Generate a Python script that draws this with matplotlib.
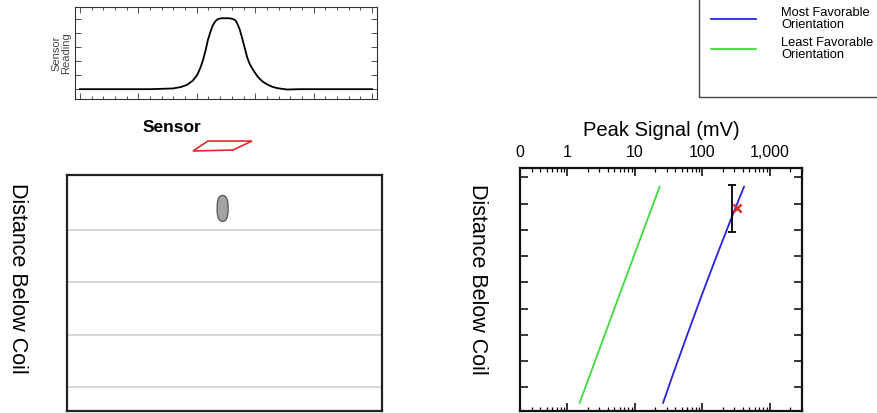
import matplotlib
matplotlib.use("Agg")
import matplotlib.pyplot as plt
import numpy as np
from matplotlib.patches import Polygon, Rectangle, FancyBboxPatch
from matplotlib.ticker import FixedLocator, MultipleLocator, LogLocator, NullFormatter

plt.rcParams["font.family"] = ["Liberation Sans", "DejaVu Sans"]

# --- data -------------------------------------------------------------
# sensor trace across the scan (position in % of scan, normalised reading)
scan_pos = [0, 24.0, 31.8, 34.5, 36.6, 38.6, 40.1, 41.2, 42.1, 43.0, 43.8, 44.7,
            45.5, 46.4, 47.3, 48.5, 49.7, 51.0, 52.4, 53.2, 53.8, 54.7, 55.5,
            56.4, 57.2, 58.0, 58.9, 60.0, 61.0, 62.5, 64.0, 65.8, 67.5, 70.9,
            75.3, 100]
scan_reading = [0, 0, 0.01, 0.03, 0.06, 0.12, 0.2, 0.3, 0.41, 0.55, 0.7, 0.82,
                0.91, 0.97, 1.0, 1.01, 1.01, 1.01, 1.0, 0.98, 0.94, 0.85, 0.73,
                0.59, 0.46, 0.37, 0.3, 0.23, 0.17, 0.11, 0.07, 0.035, 0.015,
                -0.005, 0, 0]

# peak signal vs distance below coil
distance = [0.35, 1.5, 3, 4.5, 6, 7.5, 8.6]
signal_most = [416, 275, 163, 98, 60, 37, 26.3]
signal_least = [23.4, 16.0, 9.7, 5.9, 3.6, 2.2, 1.53]

# measured point with its distance range
meas_signal = 322
meas_distance = 1.18
bar_signal = 278
bar_lo, bar_hi = 0.27, 2.07

# buried object (distance units) and layer boundaries
object_depth = (0.68, 1.67)
layer_lines = [2, 4, 6, 8]

peak_ticks = [0.2, 1, 10, 100, 1000]
peak_labels = ["0", "1", "10", "100", "1,000"]

W, H = 878, 413
fig = plt.figure(figsize=(W / 100, H / 100), dpi=100)


def box(l, t, r, b):
    return [l / W, 1 - b / H, (r - l) / W, (b - t) / H]


# --- sensor reading panel ---------------------------------------------
ax_top = fig.add_axes(box(75, 7, 377, 99))
ax_top.plot(scan_pos, scan_reading, color="black", lw=1.3)
ax_top.set_xlim(-1.7, 101.7)
ax_top.set_ylim(-0.14, 1.17)
ax_top.xaxis.set_major_locator(MultipleLocator(20))
ax_top.xaxis.set_minor_locator(MultipleLocator(4))
ax_top.yaxis.set_major_locator(MultipleLocator(0.2))
ax_top.tick_params(which="both", direction="in", top=True, right=True,
                   labelbottom=False, labelleft=False, width=0.6, color="#333")
ax_top.tick_params(which="major", length=4)
ax_top.tick_params(which="minor", length=2)
for s in ax_top.spines.values():
    s.set_linewidth(0.8)
    s.set_color("#333")
ax_top.set_ylabel("Sensor\nReading", fontsize=8, color="#444", labelpad=3,
                  linespacing=0.95)

fig.text(172 / W, 1 - 127 / H, "Sensor", fontsize=12.5, fontweight="bold",
         ha="center", va="center")
sensor_px = [(193, 151), (208, 141), (252, 141), (233, 150)]
fig.add_artist(Polygon([(x / W, 1 - y / H) for x, y in sensor_px],
                       closed=True, fill=False, edgecolor="#e8262a", lw=1.2,
                       transform=fig.transFigure))

# --- cross-section panel ----------------------------------------------
ax_sec = fig.add_axes(box(67, 175, 382, 411))
ax_sec.set_xlim(0, 10)
ax_sec.set_ylim(8.91, -0.1)
for d in layer_lines:
    ax_sec.axhline(d, color="#cfcfcf", lw=1.2)
ax_sec.add_patch(FancyBboxPatch((4.94 - 0.175, object_depth[0]), 0.35,
                                object_depth[1] - object_depth[0],
                                boxstyle="round,pad=0,rounding_size=0.17",
                                mutation_aspect=2.6,
                                facecolor="#a3a3a3", edgecolor="#555", lw=0.9))
ax_sec.set_xticks([])
ax_sec.set_yticks([])
for s in ax_sec.spines.values():
    s.set_linewidth(1.6)
    s.set_color("#222")
ax_sec.set_ylabel("Distance Below Coil", fontsize=15.5, rotation=-90,
                  va="center", ha="center")
ax_sec.yaxis.set_label_coords(-0.156, 0.56)

# --- peak signal panel ------------------------------------------------
ax_pk = fig.add_axes(box(520, 168, 802, 411))
ln_most, = ax_pk.plot(signal_most, distance, color="#2424dc", lw=1.3,
                      label="Most Favorable\nOrientation")
ln_least, = ax_pk.plot(signal_least, distance, color="#3ddc3d", lw=1.3,
                       label="Least Favorable\nOrientation")
ax_pk.errorbar([bar_signal], [(bar_lo + bar_hi) / 2],
               yerr=[[(bar_hi - bar_lo) / 2], [(bar_hi - bar_lo) / 2]],
               fmt="none", ecolor="black", elinewidth=1.3, capsize=3,
               capthick=1.3)
ax_pk.plot([meas_signal], [meas_distance], marker="x", color="#e8262a",
           ms=6, mew=1.8, ls="none")
ax_pk.set_xscale("log")
ax_pk.set_xlim(0.2, 3000)
ax_pk.set_ylim(8.91, -0.36)
ax_pk.xaxis.set_major_locator(FixedLocator(peak_ticks))
ax_pk.set_xticklabels(peak_labels)
ax_pk.xaxis.set_minor_locator(LogLocator(base=10, subs=np.arange(2, 10)))
ax_pk.xaxis.set_minor_formatter(NullFormatter())
ax_pk.yaxis.set_major_locator(MultipleLocator(1))
ax_pk.tick_params(which="both", direction="in", top=True, bottom=True,
                  left=True, right=True, labelleft=False, labelbottom=False,
                  labeltop=True, width=1.1)
ax_pk.tick_params(which="major", length=6, labelsize=11.5, pad=6)
ax_pk.tick_params(which="minor", length=3, width=0.9)
for s in ax_pk.spines.values():
    s.set_linewidth(1.6)
    s.set_color("#111")
ax_pk.xaxis.set_label_position("top")
ax_pk.set_xlabel("Peak Signal (mV)", fontsize=14.5, labelpad=6)
ax_pk.set_ylabel("Distance Below Coil", fontsize=15.5, rotation=-90,
                 va="center", ha="center")
ax_pk.yaxis.set_label_coords(-0.149, 0.54)

# --- legend -----------------------------------------------------------
fig.add_artist(Rectangle((699 / W, 1 - 97 / H), 0.5, 0.5, fill=False,
                         edgecolor="#444", lw=1.0, transform=fig.transFigure))
leg = fig.legend(handles=[ln_most, ln_least], loc="upper left",
                 bbox_to_anchor=(702 / W, 1 + 2 / H), frameon=False,
                 fontsize=9.3, handlelength=3.5, handletextpad=1.95,
                 labelspacing=0.45, borderpad=0.2)
for t in leg.get_texts():
    t.set_linespacing(1.0)

fig.savefig("out.png", dpi=100)
